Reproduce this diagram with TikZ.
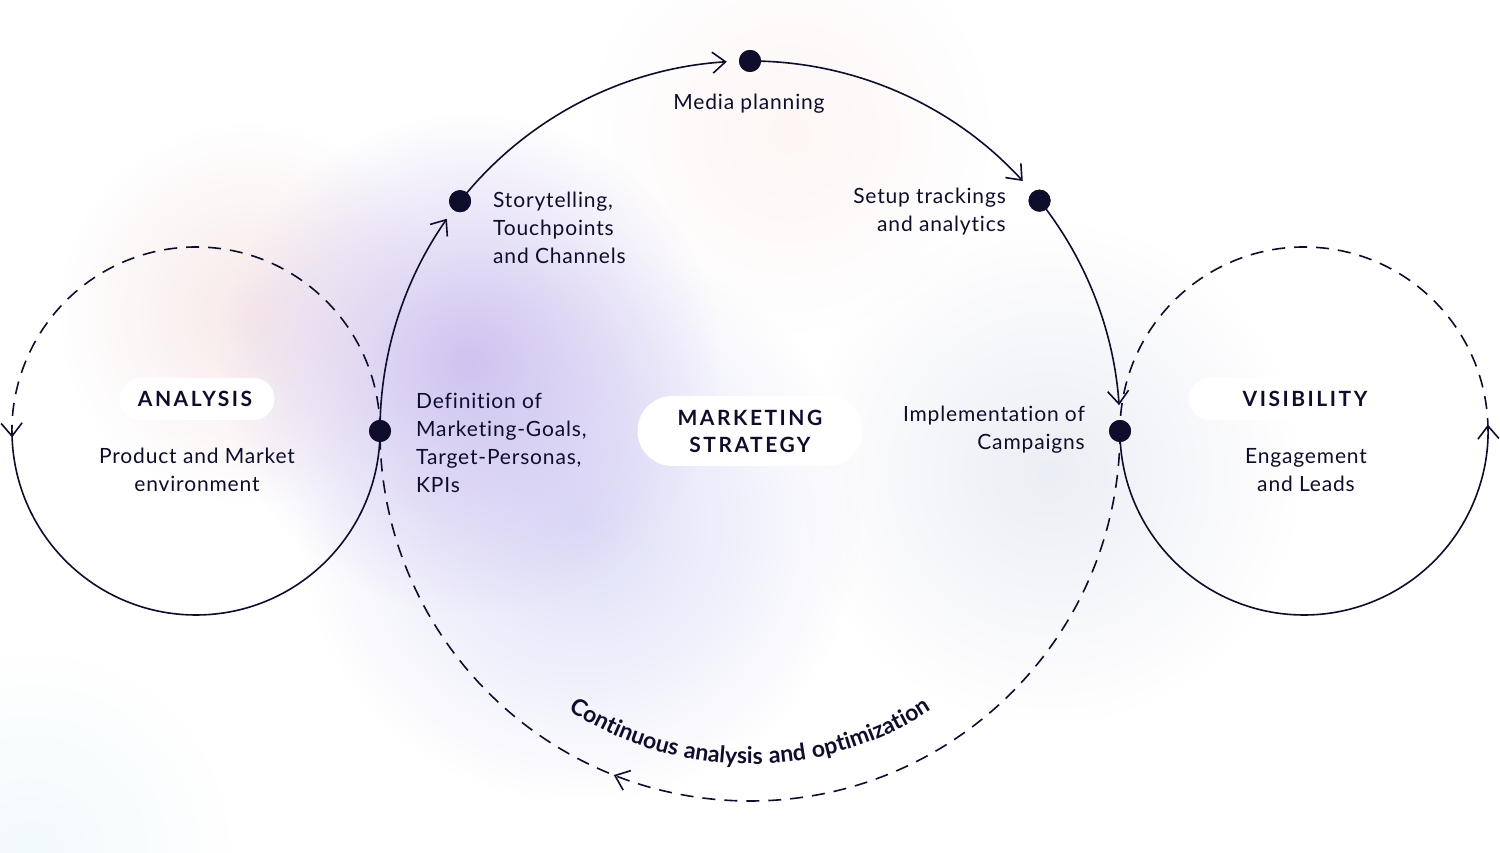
\documentclass[tikz,border=0pt]{standalone}
\usepackage{fontspec}
\setmainfont{Lato}[Ligatures={NoCommon,NoContextual,NoRequired}, Contextuals={NoAlternate}]
\usetikzlibrary{arrows.meta,decorations.text,decorations.markings,fadings}
\definecolor{ink}{HTML}{0E0E2C}
\definecolor{blobpurple}{HTML}{CFC3F0}
\definecolor{blobpeach}{HTML}{F6E4E4}
\definecolor{blobblue}{HTML}{DEDEF8}
\definecolor{blobgrey}{HTML}{ECEEF5}
\definecolor{blobpink}{HTML}{FCF0EE}
\definecolor{blobcyan}{HTML}{EAF7FB}
\tikzfading[name=softblob, inner color=transparent!0, outer color=transparent!100]
\tikzset{
  tip/.style={-{Straight Barb[length=13pt,width=21pt]}},
  solidline/.style={line width=1.6pt, draw=ink},
  dashline/.style={line width=1.6pt, draw=ink, dash pattern=on 13pt off 9pt},
  dot/.style={circle, fill=ink, minimum size=22pt, inner sep=0pt},
  body/.style={font=\fontsize{21}{28}\selectfont\addfontfeature{LetterSpace=4}, text=ink, inner sep=0pt},
  head/.style={font=\fontsize{21}{27}\selectfont\bfseries\addfontfeature{LetterSpace=12}, text=ink, inner sep=0pt, align=center},
  pill/.style={fill=white, inner sep=0pt},
  blob/.style={path fading=softblob}
}
\begin{document}
\begin{tikzpicture}[x=1pt,y=1pt]
\useasboundingbox (0,0) rectangle (1500,853);
\fill[white] (0,0) rectangle (1500,853);
% soft background
\fill[blobpeach, blob, opacity=0.8] (250,540) circle (190);
\fill[blobpink, blob, opacity=0.6] (790,720) circle (200);
\fill[blobgrey, blob] (1050,380) circle (250);
\fill[blobblue, blob] (580,330) circle (280);
\fill[blobpurple, blob] (470,490) circle (250);
\fill[blobcyan, blob, opacity=0.6] (30,0) circle (200);

% dots on the big circle (centre 750,422 radius 370)
\node[dot] (d1) at ([shift={(750,422)}]180:370) {};
\node[dot] (d2) at ([shift={(750,422)}]141.6:370) {};
\node[dot] (d3) at ([shift={(750,422)}]90:370) {};
\node[dot] (d4) at ([shift={(750,422)}]38.5:370) {};
\node[dot] (d5) at ([shift={(750,422)}]0:370) {};
\coordinate (lleft) at (12,422);
\coordinate (rright) at (1488,422);

% big circle
\draw[solidline, tip] (d1.center) arc[start angle=180, end angle=145, radius=370];
\draw[solidline, tip] (d2.center) arc[start angle=141.6, end angle=93.6, radius=370];
\draw[solidline, tip] (d3.center) arc[start angle=90, end angle=42.5, radius=370];
\draw[solidline, tip] (d4.center) arc[start angle=38.5, end angle=4, radius=370];
\draw[dashline, postaction={decorate}, decoration={markings, mark=at position 0.62 with {\arrow{Straight Barb[length=13pt,width=21pt]}}}]
  (d5.center) arc[start angle=360, end angle=180, radius=370];

% left circle (centre 196,422)
\draw[dashline, tip] (d1.center) arc[start angle=0, end angle=182, radius=184];
\draw[solidline] (lleft) arc[start angle=180, end angle=360, radius=184];

% right circle (centre 1304,422)
\draw[solidline, tip] (d5.center) arc[start angle=180, end angle=362, radius=184];
\draw[dashline] (rright) arc[start angle=0, end angle=180, radius=184];

% redraw dots on top
\foreach \n in {d1,d2,d3,d4,d5} \fill[ink] (\n) circle (11);

% pills
\node[pill, minimum width=155pt, minimum height=42pt, rounded corners=21pt] (apill) at (197,454) {};
\node[head] (analysis) at (195,454) {ANALYSIS};
\node[pill, minimum width=197pt, minimum height=42pt, rounded corners=21pt] (vpill) at (1287,454) {};
\node[head] (visibility) at (1305,454) {VISIBILITY};
\node[pill, minimum width=225pt, minimum height=70pt, rounded corners=35pt] (mpill) at (750,422) {};
\node[head] (marketing) at (750,422) {MARKETING\\STRATEGY};

% labels
\node[body, align=center] (product) at (197,383) {Product and Market\\environment};
\node[body, align=center] (engage) at (1306,383) {Engagement\\and Leads};
\node[body] (media) at (749,749) {Media planning};
\node[body, align=left, anchor=west] (story) at (493,625) {Storytelling,\\Touchpoints\\and Channels};
\node[body, align=right, anchor=east] (setup) at (1006,641) {Setup trackings\\and analytics};
\node[body, align=left, anchor=west] (defin) at (416,410) {Definition of\\Marketing-Goals,\\Target-Personas,\\KPIs};
\node[body, align=right, anchor=east] (impl) at (1085,423) {Implementation of\\Campaigns};

% curved label
\path[decorate, decoration={text along path, text color=ink,
  text={|\fontsize{23}{27}\selectfont\bfseries\addfontfeature{LetterSpace=4}|Continuous analysis and optimization},
  text align=center}]
  ([shift={(750,422)}]230:333) arc[start angle=230, end angle=310, radius=333];
\end{tikzpicture}
\end{document}
